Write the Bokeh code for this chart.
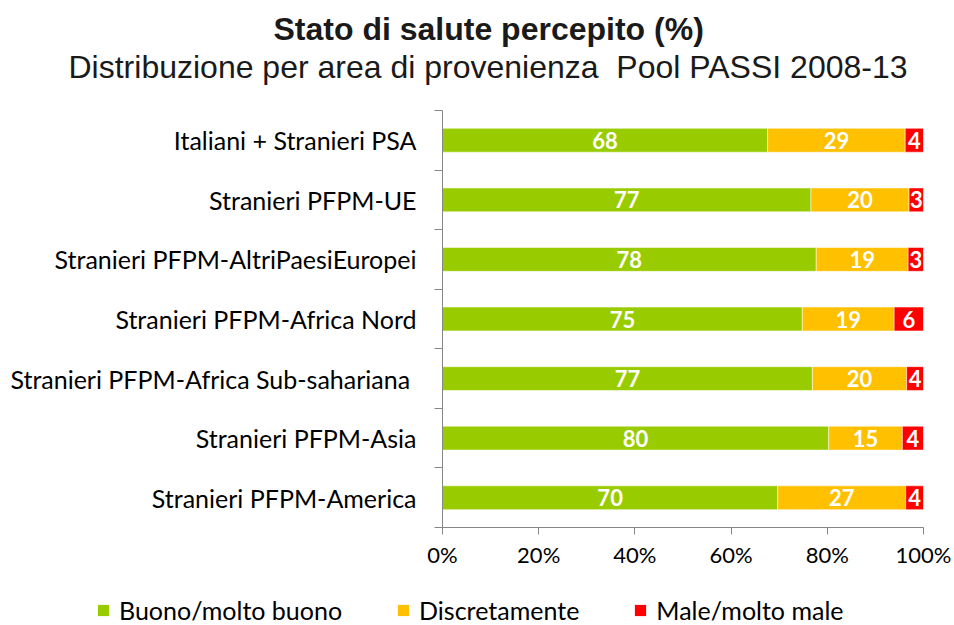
from bokeh.plotting import figure
from bokeh.layouts import column
from bokeh.models import (Range1d, FixedTicker, Title, Legend, LegendItem,
                          ColumnDataSource, PrintfTickFormatter)
from bokeh.core.properties import value
from bokeh.embed import file_html
from bokeh.resources import INLINE

# ---------------- data ----------------
title_text = "Stato di salute percepito (%)"
subtitle_text = "Distribuzione per area di provenienza\u00a0 Pool PASSI 2008-13"
categories = [
    "Italiani + Stranieri PSA",
    "Stranieri PFPM-UE",
    "Stranieri PFPM-AltriPaesiEuropei",
    "Stranieri PFPM-Africa Nord",
    "Stranieri PFPM-Africa Sub-sahariana\u00a0",
    "Stranieri PFPM-Asia",
    "Stranieri PFPM-America",
]
buono = [67.6, 76.6, 77.7, 74.8, 76.9, 80.3, 69.7]
discreto = [28.6, 20.4, 19.1, 19.1, 19.6, 15.3, 26.6]
male = [3.8, 3.0, 3.2, 6.1, 3.5, 4.4, 3.7]
series_names = ["Buono/molto buono", "Discretamente", "Male/molto male"]
series_colors = ["#99CC00", "#FFC000", "#FF0000"]
x_ticks = [0, 20, 40, 60, 80, 100]

FONT = "Lato"
AXIS_COLOR = "#868686"

# ---------------- main figure ----------------
n = len(categories)
ypos = [n - i - 0.5 for i in range(n)]

p = figure(width=954, height=583, x_range=Range1d(0, 100), y_range=Range1d(0, n),
           output_backend="svg", toolbar_location=None, title=None,
           min_border_left=442, min_border_right=31,
           min_border_top=110, min_border_bottom=56)
p.frame_align = False
p.grid.visible = False
p.outline_line_color = None

sources = []
left = [0.0] * n
for vals, color in zip([buono, discreto, male], series_colors):
    right = [l + v for l, v in zip(left, vals)]
    src = ColumnDataSource(dict(
        y=ypos, left=left, right=right,
        mid=[(l + r) / 2 for l, r in zip(left, right)],
        lab=[str(int(v + 0.5)) for v in vals],
    ))
    p.hbar(y="y", left="left", right="right", height=0.4, source=src,
           fill_color=color, line_color="white", line_width=0.5)
    p.text(x="mid", y="y", text="lab", source=src, text_color="white",
           text_font=value(FONT), text_font_style="bold", text_font_size="22px",
           text_align="center", text_baseline="middle")
    sources.append(src)
    left = right

# x axis
xa = p.xaxis[0]
xa.ticker = FixedTicker(ticks=x_ticks)
xa.formatter = PrintfTickFormatter(format="%d%%")
xa.axis_line_color = AXIS_COLOR
xa.major_tick_line_color = AXIS_COLOR
xa.major_tick_out = 7
xa.major_tick_in = 0
xa.minor_tick_line_color = None
xa.major_label_text_font = FONT
xa.major_label_text_font_size = "22px"
xa.major_label_text_color = "#000000"
xa.major_label_standoff = 6

# y axis
ya = p.yaxis[0]
ya.ticker = FixedTicker(ticks=ypos, minor_ticks=list(range(n + 1)))
ya.major_label_overrides = {y: c for y, c in zip(ypos, categories)}
ya.axis_line_color = AXIS_COLOR
ya.major_tick_line_color = None
ya.major_tick_out = 0
ya.major_tick_in = 0
ya.minor_tick_line_color = AXIS_COLOR
ya.minor_tick_out = 8
ya.minor_tick_in = 0
ya.major_label_text_font = FONT
ya.major_label_text_font_size = "25px"
ya.major_label_text_color = "#000000"
ya.major_label_standoff = 18

# titles (first added = closest to the plot); a blank spacer keeps the gap
p.add_layout(Title(text=" ", text_font_size="10px", standoff=13), "above")
p.add_layout(Title(text=subtitle_text, align="left", offset=-374,
                   text_font="Liberation Sans", text_font_style="normal",
                   text_font_size="32px", text_color="#1a1a1a", standoff=0), "above")
p.add_layout(Title(text=title_text, align="left", offset=-169,
                   text_font="Liberation Sans", text_font_style="bold",
                   text_font_size="32px", text_color="#1a1a1a", standoff=0), "above")

# ---------------- legend strip ----------------
lf = figure(width=954, height=42, x_range=Range1d(0, 1), y_range=Range1d(0, 1),
            output_backend="svg", toolbar_location=None, title=None,
            x_axis_location=None, y_axis_location=None, min_border=0)
lf.frame_align = False
lf.grid.visible = False
lf.outline_line_color = None
items = []
for nm, color, src in zip(series_names, series_colors, sources):
    r = lf.hbar(y="y", left="left", right="right", height=0.4, source=src,
                fill_color=color, line_color=None, visible=False)
    items.append(LegendItem(label=nm, renderers=[r]))
legend = Legend(items=items, location=(96, 0), orientation="horizontal",
                padding=0, margin=0, spacing=54, border_line_color=None,
                background_fill_alpha=0, inactive_fill_alpha=0,
                glyph_width=14, glyph_height=14,
                label_standoff=9, label_text_font=FONT, label_text_font_size="25px",
                label_text_color="#000000")
lf.add_layout(legend)

open("out.html", "w").write(file_html(column(p, lf, spacing=0), INLINE))
